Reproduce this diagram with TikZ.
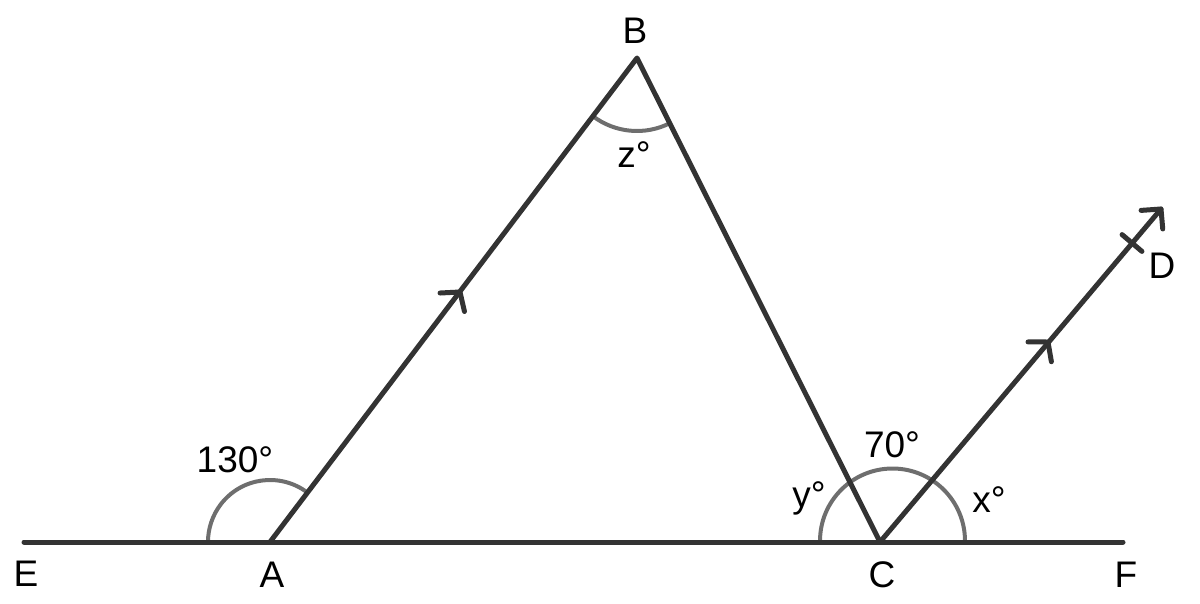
\documentclass[tikz,border=0pt]{standalone}
\usepackage{fontspec}
\setmainfont{Liberation Sans}
\usetikzlibrary{calc}
\definecolor{linec}{HTML}{333333}
\definecolor{arcc}{HTML}{6E6E6E}
\begin{document}
\begin{tikzpicture}[x=1pt,y=-1pt,
  mainline/.style={draw=linec,line width=5pt,line cap=round,line join=round},
  anglearc/.style={draw=arcc,line width=4pt},
  chev/.style={draw=linec,line width=5pt,line cap=round,line join=round},
  lbl/.style={anchor=base,inner sep=0pt,text=black,font=\fontsize{37}{44}\selectfont}]
\useasboundingbox (0,0) rectangle (1200,603);
% points
\coordinate (E) at (24,542);
\coordinate (F) at (1123,542);
\coordinate (A) at (270,542);
\coordinate (B) at (637,58);
\coordinate (C) at (880,542);
\coordinate (D) at (1161,209);
\coordinate (Cc) at (892.5,541);
\coordinate (m1) at (460,292);
\coordinate (m2) at (1048,342);
\coordinate (tk) at (1132,243);
% angle arcs
\draw[anglearc] ($(A)+(52.9:62pt)$) arc[start angle=52.9,end angle=180,radius=62pt];
\draw[anglearc] ($(B)+(232.8:73pt)$) arc[start angle=232.8,end angle=296.7,radius=73pt];
\draw[anglearc] ($(Cc)+(0:72.5pt)$) arc[start angle=0,end angle=180,radius=72.5pt];
% lines
\draw[mainline] (E) -- (F);
\draw[mainline] (A) -- (B) -- (C) -- (D);
% chevrons
\draw[chev] ($(m1)+(182.9:20pt)$) -- (m1) -- ($(m1)+(282.9:20pt)$);
\draw[chev] ($(m2)+(179.8:20pt)$) -- (m2) -- ($(m2)+(279.8:20pt)$);
\draw[chev] ($(D)+(184:20pt)$) -- (D) -- ($(D)+(275:20pt)$);
\draw[chev] ($(tk)+(139.8:13pt)$) -- ($(tk)+(-40.2:13pt)$);
% labels
\node[lbl] (lB) at (635,43) {B};
\node[lbl] (lz) at (634,167) {z°};
\node[lbl] (lE) at (26,586) {E};
\node[lbl] (lA) at (272,587) {A};
\node[lbl] (lC) at (882,587) {C};
\node[lbl] (lF) at (1126,587) {F};
\node[lbl] (lD) at (1162,278) {D};
\node[lbl] (l130) at (235,472) {130°};
\node[lbl] (l70) at (892,457) {70°};
\node[lbl] (ly) at (809,507) {y°};
\node[lbl] (lx) at (989,512) {x°};
\end{tikzpicture}
\end{document}
